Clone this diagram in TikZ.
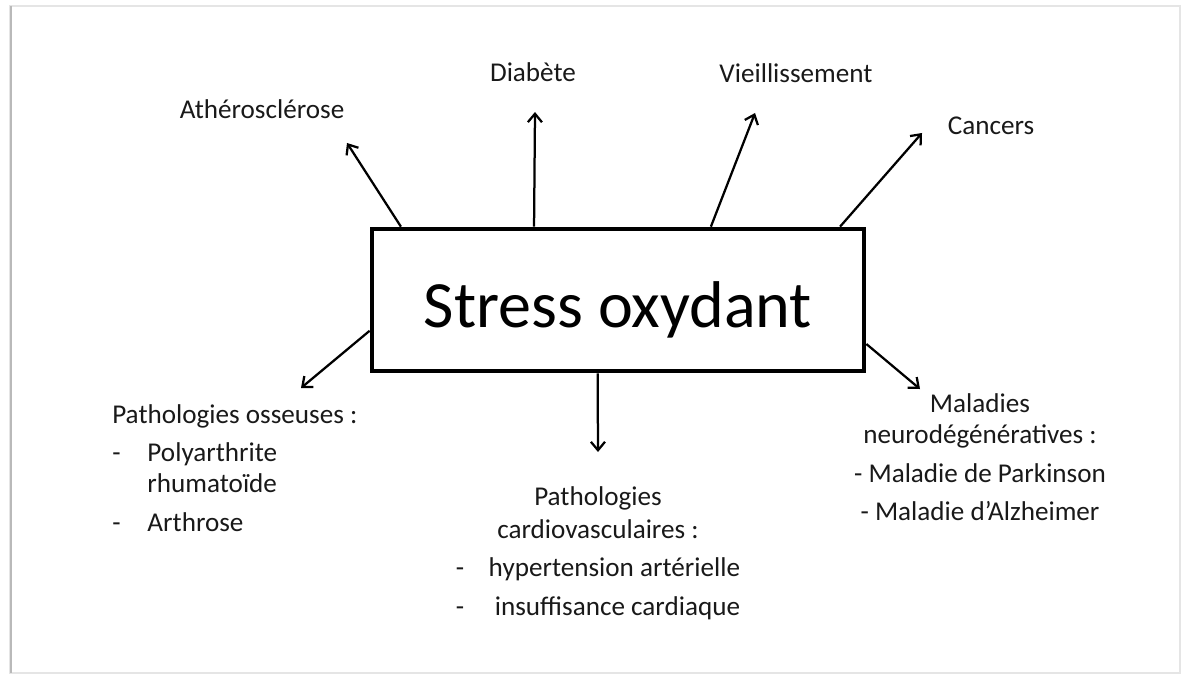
\documentclass[tikz,border=0pt]{standalone}
\usepackage{fontspec}
\setmainfont{Carlito}
\usetikzlibrary{arrows.meta,calc}

\newcommand{\tiret}{\makebox[0.88cm][l]{-}}

\begin{document}
\begin{tikzpicture}[x=0.025cm,y=-0.025cm,
    etiquette/.style={font=\fontsize{19.3}{22}\selectfont,inner sep=0pt,text=black!90},
    fleche/.style={line width=1.6pt,-{Straight Barb[length=6pt,width=10pt,line width=1.6pt]}}]
    % Page frame
    \useasboundingbox (0,0) rectangle (1182,675);
    \draw[gray!20,line width=1pt] (10,6) rectangle (1180,673);
    \draw[gray!55,line width=2pt] (11,6) -- (11,673);
    % Central box
    \node[draw,line width=3.3pt,minimum width=12.3cm,minimum height=3.55cm,inner sep=0pt,
        text height=1.5cm,text depth=0.15cm,
        font=\fontsize{47}{56}\selectfont] (stress) at (618,300) {Stress oxydant};
    % Labels above the box
    \node[etiquette,anchor=base] (athero) at (262,119) {Athérosclérose};
    \node[etiquette,anchor=base] (diabete) at (533,82) {Diabète};
    \node[etiquette,anchor=base] (vieil) at (796,83) {Vieillissement};
    \node[etiquette,anchor=base] (cancers) at (991,135) {Cancers};
    % Labels below the box
    \node[etiquette,anchor=north west,align=left] (osseuses) at (112,404)
        {Pathologies osseuses :\\[5pt]
         \tiret Polyarthrite\\
         \hspace*{0.88cm}rhumatoïde\\[6pt]
         \tiret Arthrose};
    \node[etiquette,anchor=north,align=center] (cardio) at (598,486)
        {Pathologies\\[1.5pt]
         cardiovasculaires :\\[5pt]
         \makebox[7.1cm]{-\hfill hypertension artérielle}\\[6pt]
         \makebox[7.1cm]{-\hfill insuffisance cardiaque}};
    \node[etiquette,anchor=north,align=center] (neuro) at (980,393)
        {Maladies\\
         neurodégénératives :\\[6pt]
         - Maladie de Parkinson\\[5pt]
         - Maladie d’Alzheimer};
    % Arrow ends
    \coordinate (pAthero) at (347,143);
    \coordinate (pDiabete) at (535,112);
    \coordinate (pVieil) at (755,113);
    \coordinate (pCancers) at (922,133);
    \coordinate (pOsseuses) at (301,388);
    \coordinate (pCardio) at (598,452);
    \coordinate (pNeuro) at (920,389);
    % Arrows from the box
    \draw[fleche] ($(stress.north west)!0.063!(stress.north east)$) -- (pAthero);
    \draw[fleche] ($(stress.north west)!0.331!(stress.north east)$) -- (pDiabete);
    \draw[fleche] ($(stress.north west)!0.687!(stress.north east)$) -- (pVieil);
    \draw[fleche] ($(stress.north west)!0.947!(stress.north east)$) -- (pCancers);
    \draw[fleche] ($(stress.north west)!0.71!(stress.south west)$) -- (pOsseuses);
    \draw[fleche] ($(stress.south west)!0.459!(stress.south east)$) -- (pCardio);
    \draw[fleche] ($(stress.north east)!0.80!(stress.south east)$) -- (pNeuro);
\end{tikzpicture}
\end{document}
